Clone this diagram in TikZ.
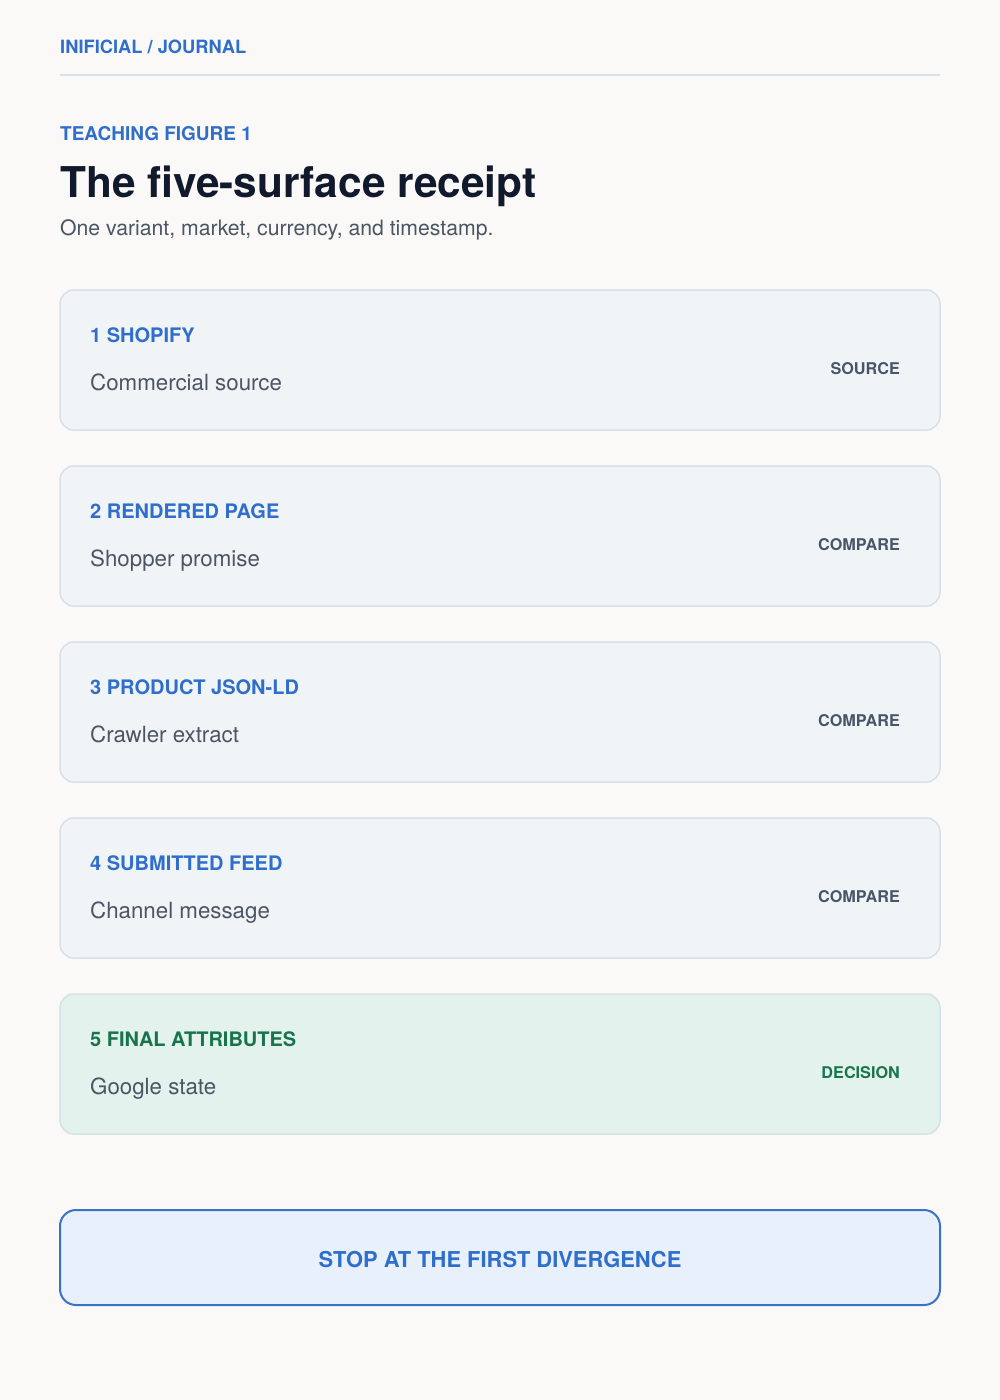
\documentclass[tikz,border=0pt]{standalone}
\usepackage{fontspec}
\setmainfont{TeX Gyre Heros}
\definecolor{bg}{HTML}{FAF9F7}
\definecolor{accent}{HTML}{2F6ECB}
\definecolor{ink}{HTML}{111A2C}
\definecolor{muted}{HTML}{4B5563}
\definecolor{tag}{HTML}{475569}
\definecolor{cardfill}{HTML}{F1F4F7}
\definecolor{cardline}{HTML}{D8E0E8}
\definecolor{greenfill}{HTML}{E3F2EC}
\definecolor{greenink}{HTML}{17744D}
\definecolor{stopfill}{HTML}{E8F0FC}
\definecolor{stopline}{HTML}{3A72C9}
\newcommand{\fs}[1]{\fontsize{#1}{#1}\selectfont}
\tikzset{
  card/.style={draw=cardline, fill=cardfill, line width=1.5pt, rounded corners=14pt,
    minimum width=880pt, minimum height=140pt, inner sep=0pt, outer sep=0pt, anchor=north west},
  greencard/.style={card, fill=greenfill},
  stopbox/.style={draw=stopline, fill=stopfill, line width=2pt, rounded corners=16pt,
    minimum width=880pt, minimum height=95pt, inner sep=0pt, outer sep=0pt, anchor=north west},
  cardhead/.style={inner sep=0pt, anchor=base west, text=accent, font=\fs{20}\bfseries},
  cardsub/.style={inner sep=0pt, anchor=base west, text=muted, font=\fs{22.3}},
  cardtag/.style={inner sep=0pt, anchor=base east, text=tag, font=\fs{16.2}\bfseries},
}
\begin{document}
\begin{tikzpicture}[x=1pt,y=-1pt]
\path[fill=bg] (0,0) rectangle (1000,1400);
\useasboundingbox (0,0) rectangle (1000,1400);
\node[inner sep=0pt, anchor=base west, text=accent, font=\fs{18.3}\bfseries] (brand) at (60,53.5) {INIFICIAL / JOURNAL};
\coordinate (ruleL) at (60,75);
\coordinate (ruleR) at (940,75);
\draw[cardline, line width=1.5pt] (ruleL) -- (ruleR);
\node[inner sep=0pt, anchor=base west, text=accent, font=\fs{19}\bfseries] (kicker) at (60,140) {TEACHING FIGURE 1};
\node[inner sep=0pt, anchor=base west, text=ink, font=\fs{42.4}\bfseries] (title) at (60,197) {The five-surface receipt};
\node[inner sep=0pt, anchor=base west, text=muted, font=\fs{21.2}] (subtitle) at (60,235) {One variant, market, currency, and timestamp.};

\foreach \i/\top/\head/\sub/\tg/\sty/\hc/\tc in {
  1/290/1 SHOPIFY/Commercial source/SOURCE/card/accent/tag,
  2/466/2 RENDERED PAGE/Shopper promise/COMPARE/card/accent/tag,
  3/642/3 PRODUCT JSON-LD/Crawler extract/COMPARE/card/accent/tag,
  4/818/4 SUBMITTED FEED/Channel message/COMPARE/card/accent/tag,
  5/994/5 FINAL ATTRIBUTES/Google state/DECISION/greencard/greenink/greenink}{
  \node[\sty] (box\i) at (60,\top) {};
  \node[cardhead, text=\hc] (head\i) at ([xshift=30pt, yshift=-52pt]box\i.north west) {\head};
  \node[cardsub] (sub\i) at ([xshift=30pt, yshift=-100pt]box\i.north west) {\sub};
  \node[cardtag, text=\tc] (tag\i) at ([xshift=-40pt, yshift=-84pt]box\i.north east) {\tg};
}

\node[stopbox] (stop) at (60,1210) {};
\node[inner sep=0pt, anchor=base, text=accent, font=\fs{21.9}\bfseries] (stoptext) at ([yshift=-57pt]stop.north) {STOP AT THE FIRST DIVERGENCE};
\end{tikzpicture}
\end{document}
